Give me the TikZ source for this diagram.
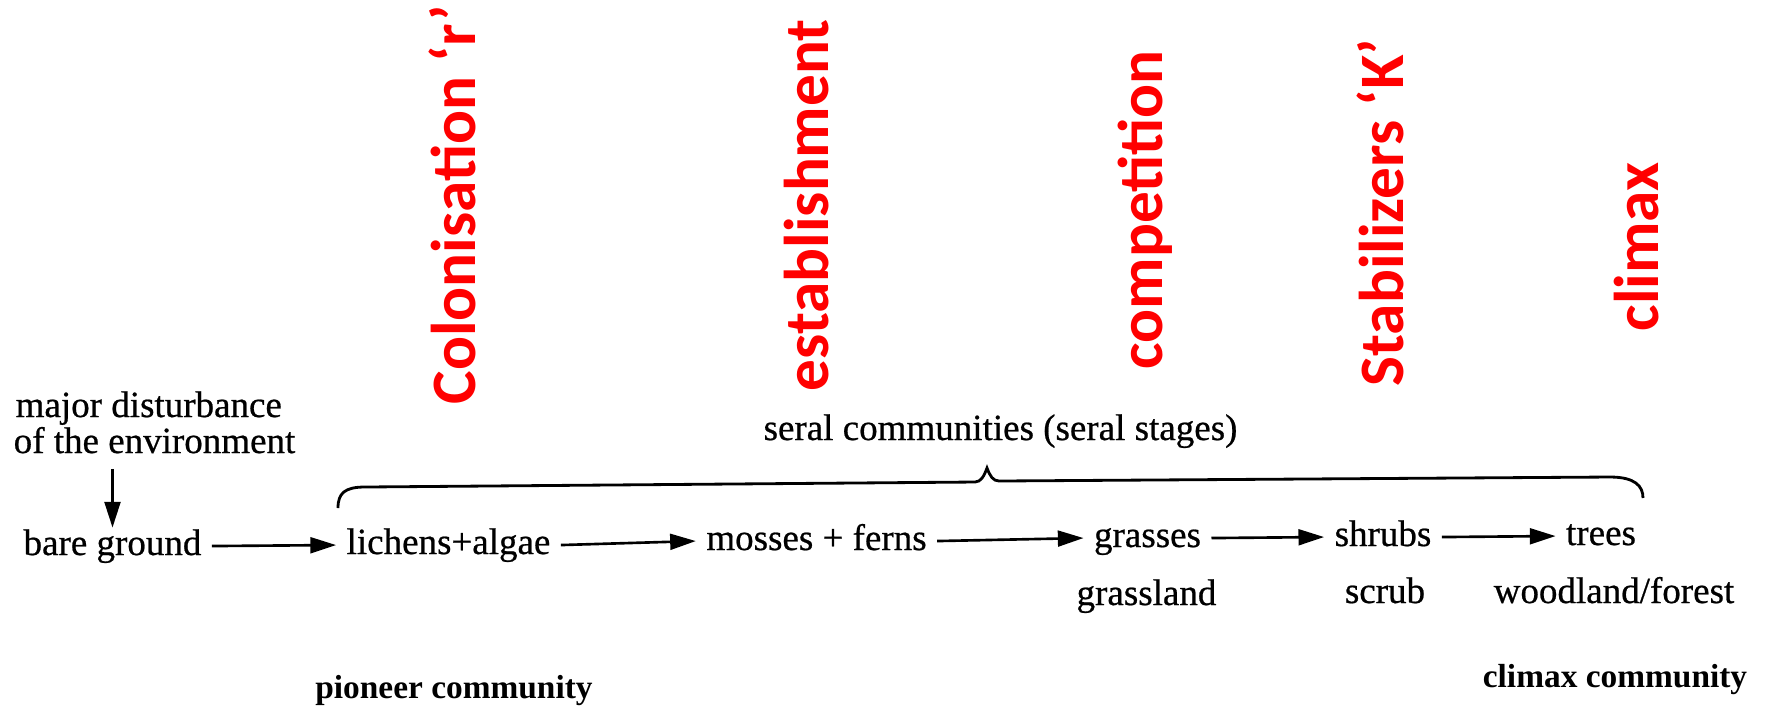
\documentclass[tikz,border=0pt]{standalone}
\usepackage{fontspec}
\setmainfont{Liberation Serif}
\newfontfamily\scanfont{Liberation Serif}[FakeBold=0.6]
\newfontfamily\redfont{Carlito}
\usetikzlibrary{arrows.meta}
\begin{document}
\begin{tikzpicture}[x=0.1mm,y=-0.1mm,
  lbl/.style={font=\scanfont\fontsize{10.53pt}{12pt}\selectfont, anchor=base, inner xsep=2.8pt, inner ysep=2.5pt, text height=5.1pt, text depth=0pt},
  txt/.style={font=\scanfont\fontsize{10.53pt}{12pt}\selectfont, anchor=base, inner sep=0pt},
  boldlbl/.style={font=\fontsize{9.5pt}{12pt}\selectfont\bfseries, anchor=base, inner sep=0pt},
  stage/.style={font=\redfont\bfseries\fontsize{18pt}{20pt}\selectfont, text=red, rotate=90, anchor=base west, inner sep=0pt},
  arr/.style={-{Triangle[length=7.3pt,width=4.5pt]}, line width=0.75pt},
  brace/.style={line width=0.8pt},
]
\useasboundingbox (0,0) rectangle (1767,708);

% red stage labels
\node[stage] (col)  at (475,405)  {Colonisation ‘r’};
\node[stage] (est)  at (828,392)  {establishment};
\node[stage] (comp) at (1162,370) {competition};
\node[stage] (stab) at (1403,387) {Stabilizers ‘K’};
\node[stage] (clim) at (1658,332) {climax};

% disturbance
\node[txt, anchor=base west] (dist1) at (15,417) {major disturbance};
\node[txt, anchor=base west, text depth=0pt, inner ysep=4.3pt] (dist2) at (13,453) {of the environment};

% main sequence
\node[lbl] (ground)  at (112.5,555) {bare ground};
\node[lbl] (lichens) at (448.5,554) {lichens+algae};
\node[lbl] (mosses)  at (816.5,550) {mosses + ferns};
\node[lbl] (grasses) at (1147.5,547) {grasses};
\node[lbl] (shrubs)  at (1383,546) {shrubs};
\node[lbl] (trees)   at (1601,545) {trees};

% community labels
\node[txt] (seral)     at (1000.5,440) {seral communities (seral stages)};
\node[txt] (grassland) at (1146.5,605) {grassland};
\node[txt] (scrub)     at (1385,603)   {scrub};
\node[txt] (wood)      at (1614,603)   {woodland/forest};
\node[boldlbl] (pioneer) at (454,698)  {pioneer community};
\node[boldlbl] (climc)   at (1615,687) {climax community};

% arrows
\draw[arr] (ground.north |- dist2.south) -- (ground.north);
\draw[arr] (ground.east) -- (lichens.west);
\draw[arr] (lichens.east) -- (mosses.west);
\draw[arr] (mosses.east) -- (grasses.west);
\draw[arr] (grasses.east) -- (shrubs.west);
\draw[arr] (shrubs.east) -- (trees.west);

% brace
\coordinate (bl) at (338,508);
\coordinate (bp) at (987,468);
\coordinate (br) at (1643,498);
\draw[brace] (bl) .. controls (338,493) and (345,487) .. (365,487) -- (975,482)
  .. controls (981,482) and (984,476) .. (bp)
  .. controls (990,476) and (993,481) .. (999,481) -- (1610,477)
  .. controls (1635,477) and (1643,486) .. (br);
\end{tikzpicture}
\end{document}
